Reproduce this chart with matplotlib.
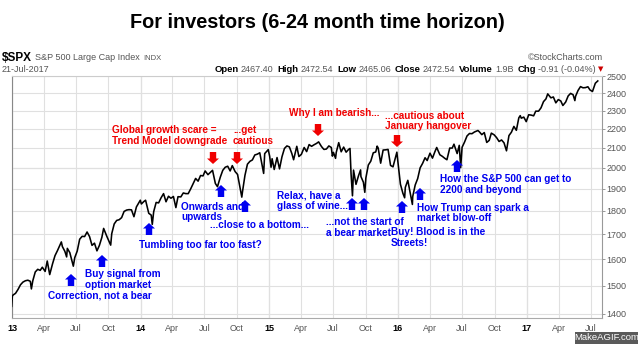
import matplotlib
matplotlib.use('Agg')
import matplotlib.pyplot as plt
from matplotlib.patches import Polygon, Rectangle
from matplotlib.ticker import FixedLocator, FixedFormatter, NullLocator
import pandas as pd

W, H = 640, 345
plt.rcParams['font.family'] = ['Liberation Sans', 'DejaVu Sans']

# ---------------- data (S&P 500 closes) ----------------
dates = [
    "2012-12-31", "2013-01-02", "2013-01-04", "2013-01-11", "2013-01-18", "2013-01-25",
    "2013-02-01", "2013-02-08", "2013-02-15", "2013-02-22", "2013-02-25", "2013-03-01",
    "2013-03-08", "2013-03-15", "2013-03-22", "2013-03-28", "2013-04-05", "2013-04-11",
    "2013-04-18", "2013-04-26", "2013-05-03", "2013-05-10", "2013-05-21", "2013-05-24",
    "2013-05-31", "2013-06-05", "2013-06-07", "2013-06-14", "2013-06-24", "2013-06-28",
    "2013-07-05", "2013-07-12", "2013-07-19", "2013-07-26", "2013-08-02", "2013-08-09",
    "2013-08-16", "2013-08-23", "2013-08-30", "2013-09-06", "2013-09-13", "2013-09-18",
    "2013-09-27", "2013-10-08", "2013-10-11", "2013-10-18", "2013-10-25", "2013-11-01",
    "2013-11-08", "2013-11-15", "2013-11-22", "2013-11-29", "2013-12-06", "2013-12-13",
    "2013-12-20", "2013-12-31",
    "2014-01-03", "2014-01-10", "2014-01-15", "2014-01-24", "2014-01-31", "2014-02-03",
    "2014-02-07", "2014-02-14", "2014-02-21", "2014-02-28", "2014-03-07", "2014-03-14",
    "2014-03-21", "2014-03-28", "2014-04-04", "2014-04-11", "2014-04-17", "2014-04-25",
    "2014-05-02", "2014-05-09", "2014-05-16", "2014-05-23", "2014-05-30", "2014-06-06",
    "2014-06-13", "2014-06-20", "2014-06-27", "2014-07-03", "2014-07-11", "2014-07-18",
    "2014-07-24", "2014-08-01", "2014-08-07", "2014-08-15", "2014-08-22", "2014-08-29",
    "2014-09-05", "2014-09-12", "2014-09-18", "2014-09-26", "2014-10-03", "2014-10-10",
    "2014-10-15", "2014-10-17", "2014-10-24", "2014-10-31", "2014-11-07", "2014-11-14",
    "2014-11-21", "2014-11-28", "2014-12-05", "2014-12-16", "2014-12-19", "2014-12-29",
    "2015-01-02", "2015-01-06", "2015-01-09", "2015-01-15", "2015-01-23", "2015-01-30",
    "2015-02-06", "2015-02-13", "2015-02-20", "2015-02-27", "2015-03-06", "2015-03-11",
    "2015-03-20", "2015-03-26", "2015-04-02", "2015-04-10", "2015-04-17", "2015-04-24",
    "2015-05-01", "2015-05-08", "2015-05-15", "2015-05-21", "2015-05-29", "2015-06-05",
    "2015-06-12", "2015-06-19", "2015-06-26", "2015-06-29", "2015-07-02", "2015-07-08",
    "2015-07-10", "2015-07-17", "2015-07-24", "2015-07-31", "2015-08-07", "2015-08-14",
    "2015-08-18", "2015-08-21", "2015-08-25", "2015-08-28", "2015-09-04", "2015-09-11",
    "2015-09-17", "2015-09-18", "2015-09-25", "2015-09-29", "2015-10-02", "2015-10-09",
    "2015-10-16", "2015-10-23", "2015-10-30", "2015-11-03", "2015-11-06", "2015-11-13",
    "2015-11-20", "2015-11-27", "2015-12-04", "2015-12-11", "2015-12-18", "2015-12-29",
    "2015-12-31",
    "2016-01-08", "2016-01-15", "2016-01-20", "2016-01-22", "2016-01-29", "2016-02-05",
    "2016-02-11", "2016-02-12", "2016-02-19", "2016-02-26", "2016-03-04", "2016-03-11",
    "2016-03-18", "2016-03-24", "2016-04-01", "2016-04-08", "2016-04-15", "2016-04-20",
    "2016-04-29", "2016-05-06", "2016-05-13", "2016-05-19", "2016-05-27", "2016-06-03",
    "2016-06-08", "2016-06-17", "2016-06-23", "2016-06-27", "2016-07-01", "2016-07-08",
    "2016-07-15", "2016-07-22", "2016-07-29", "2016-08-05", "2016-08-15", "2016-08-19",
    "2016-08-26", "2016-09-02", "2016-09-09", "2016-09-16", "2016-09-22", "2016-09-30",
    "2016-10-07", "2016-10-14", "2016-10-21", "2016-10-28", "2016-11-04", "2016-11-11",
    "2016-11-18", "2016-11-25", "2016-12-02", "2016-12-09", "2016-12-13", "2016-12-16",
    "2016-12-23", "2016-12-30",
    "2017-01-06", "2017-01-13", "2017-01-20", "2017-01-26", "2017-02-03", "2017-02-10",
    "2017-02-17", "2017-02-24", "2017-03-01", "2017-03-10", "2017-03-17", "2017-03-24",
    "2017-03-31", "2017-04-07", "2017-04-13", "2017-04-21", "2017-04-28", "2017-05-05",
    "2017-05-12", "2017-05-17", "2017-05-19", "2017-05-26", "2017-06-02", "2017-06-09",
    "2017-06-16", "2017-06-23", "2017-06-29", "2017-07-06", "2017-07-14", "2017-07-21",
]
closes = [
    1426, 1462, 1466, 1472, 1486, 1503,
    1513, 1518, 1520, 1516, 1488, 1518,
    1551, 1561, 1557, 1569, 1553, 1593,
    1541, 1582, 1614, 1634, 1669, 1650,
    1631, 1609, 1643, 1626, 1573, 1606,
    1632, 1680, 1692, 1691, 1710, 1691,
    1655, 1664, 1633, 1655, 1688, 1725,
    1692, 1656, 1703, 1744, 1759, 1762,
    1771, 1798, 1804, 1806, 1805, 1775,
    1818, 1848,
    1831, 1842, 1848, 1790, 1782, 1742,
    1797, 1838, 1836, 1859, 1878, 1841,
    1866, 1857, 1865, 1815, 1864, 1863,
    1881, 1878, 1878, 1900, 1924, 1949,
    1936, 1963, 1961, 1985, 1967, 1978,
    1988, 1925, 1910, 1955, 1988, 2003,
    2008, 1985, 2011, 1982, 1968, 1906,
    1862, 1887, 1964, 2018, 2032, 2039,
    2064, 2068, 2075, 1973, 2071, 2091,
    2058, 2003, 2045, 1992, 2051, 1995,
    2055, 2097, 2110, 2105, 2071, 2040,
    2108, 2056, 2067, 2102, 2081, 2117,
    2108, 2116, 2123, 2131, 2107, 2092,
    2094, 2110, 2102, 2058, 2077, 2047,
    2077, 2127, 2080, 2104, 2078, 2092,
    2097, 1971, 1868, 1989, 1921, 1961,
    1990, 1958, 1931, 1884, 1951, 2014,
    2033, 2075, 2079, 2109, 2099, 2023,
    2089, 2090, 2092, 2012, 2005, 2078,
    2044,
    1922, 1880, 1859, 1907, 1940, 1880,
    1829, 1865, 1918, 1948, 2000, 2022,
    2050, 2036, 2073, 2048, 2081, 2102,
    2065, 2057, 2047, 2040, 2099, 2099,
    2119, 2071, 2113, 2001, 2103, 2130,
    2162, 2175, 2174, 2183, 2191, 2184,
    2169, 2180, 2128, 2139, 2177, 2168,
    2153, 2133, 2141, 2126, 2085, 2164,
    2182, 2213, 2192, 2260, 2272, 2258,
    2264, 2239,
    2277, 2275, 2271, 2297, 2297, 2316,
    2351, 2367, 2396, 2373, 2378, 2344,
    2363, 2355, 2329, 2349, 2384, 2399,
    2391, 2357, 2382, 2416, 2439, 2432,
    2433, 2438, 2419, 2410, 2459, 2473,
]

y_ticks = [1400, 1500, 1600, 1700, 1800, 1900, 2000, 2100, 2200, 2300, 2400, 2500]
x_tick_dates = pd.date_range("2013-01-01", "2017-07-01", freq="QS")
x_tick_labels = ["13", "Apr", "Jul", "Oct", "14", "Apr", "Jul", "Oct",
                 "15", "Apr", "Jul", "Oct", "16", "Apr", "Jul", "Oct",
                 "17", "Apr", "Jul"]

title = "For investors (6-24 month time horizon)"

# annotations: (text, text_x_px, text_y_px_center, arrow_x_px, arrow_top_px)
red_notes = [
    ("Global growth scare =\nTrend Model downgrade", 112, 135.5, 213, 152),
    ("...get\ncautious", 233, 135.5, 237, 152),
    ("Why I am bearish...", 289, 113, 318, 124),
    ("...cautious about\nJanuary hangover", 385, 121, 397, 135),
]
blue_notes = [
    ("Correction, not a bear", 48, 295, 71, 274),
    ("Buy signal from\noption market", 85, 279.5, 102, 255),
    ("Tumbling too far too fast?", 139, 245, 149, 223),
    ("Onwards and\nupwards", 181, 212, 221, 185),
    ("...close to a bottom...", 210, 225, 245, 200),
    ("Relax, have a\nglass of wine...", 277, 200.5, 352, 198),
    ("...not the start of\na bear market", 326, 227.5, 364, 198),
    ("Buy! Blood is in the\nStreets!", 391, 237.5, 402, 201),
    ("How Trump can spark a\nmarket blow-off", 417, 213, 420, 188),
    ("How the S&P 500 can get to\n2200 and beyond", 440, 184.5, 457, 160),
]

# ---------------- figure ----------------
fig = plt.figure(figsize=(W / 100, H / 100), dpi=100)
fig.patch.set_facecolor('white')


def fx(x):
    return x / W


def fy(y):
    return 1 - y / H


ax = fig.add_axes([fx(12), fy(318), (602 - 12) / W, (318 - 76) / H])
ax.set_yscale('log')
d = pd.to_datetime(dates)
ax.plot(d, closes, color='black', lw=1.15, zorder=3)

ax.set_xlim(pd.Timestamp("2013-01-01"), pd.Timestamp("2017-08-02"))
ax.set_ylim(1386, 2503)

ax.yaxis.set_major_locator(FixedLocator(y_ticks))
ax.yaxis.set_major_formatter(FixedFormatter([str(v) for v in y_ticks]))
ax.yaxis.set_minor_locator(NullLocator())
ax.yaxis.tick_right()
ax.tick_params(axis='y', which='major', length=2, width=0.6, color='#888888',
               labelsize=6.5, labelcolor='#555555', pad=1)

ax.set_xticks(x_tick_dates)
ax.set_xticklabels(x_tick_labels)
ax.xaxis.set_minor_locator(NullLocator())
ax.tick_params(axis='x', which='major', length=0, labelsize=6.5,
               labelcolor='#555555', pad=4)
for lab in ax.get_xticklabels():
    if lab.get_text().isdigit():
        lab.set_fontweight('bold')
        lab.set_color('black')

ax.grid(True, which='major', color='#e0e0e0', lw=0.8, zorder=0)
for dt, lab in zip(x_tick_dates, x_tick_labels):
    if lab.isdigit():
        ax.axvline(dt, color='#c8c8c8', lw=0.8, zorder=1)
ax.axhline(2000, color='#cfcfcf', lw=0.8, zorder=1)

for side, c in (('left', '#888888'), ('right', '#999999'),
                ('bottom', '#aaaaaa'), ('top', '#cccccc')):
    ax.spines[side].set_color(c)
    ax.spines[side].set_linewidth(0.8)

# ---------------- title & header ----------------
fig.text(fx(317.5), fy(22), title, ha='center', va='center',
         fontsize=14.3, fontweight='bold', color='black')

renderer = fig.canvas.get_renderer()


def run(pieces, x, y, align='left'):
    texts = []
    cur = x
    for s, kw, gap in pieces:
        t = fig.text(fx(cur), fy(y), s, ha='left', va='center', **kw)
        bb = t.get_window_extent(renderer=renderer)
        cur += bb.width + gap
        texts.append(t)
    if align == 'right':
        shift = cur - x
        for t in texts:
            px, py = t.get_position()
            t.set_position((px - shift / W, py))


gray = '#555555'
run([("$SPX", dict(fontsize=8.5, fontweight='bold', color='black'), 3),
     ("S&P 500 Large Cap Index", dict(fontsize=6.5, color=gray), 3),
     ("INDX", dict(fontsize=5.5, color=gray), 0)], 2, 58)
fig.text(fx(2), fy(69), "21-Jul-2017", ha='left', va='center', fontsize=6.5, color=gray)
fig.text(fx(603), fy(57), "\u00a9StockCharts.com", ha='right', va='center',
         fontsize=6.5, color=gray)

lbl = dict(fontsize=6.8, fontweight='bold', color='black')
val = dict(fontsize=6.5, color=gray)
run([("Open", lbl, 2), ("2467.40", val, 4),
     ("High", lbl, 2), ("2472.54", val, 4),
     ("Low", lbl, 2), ("2465.06", val, 4),
     ("Close", lbl, 2), ("2472.54", val, 4),
     ("Volume", lbl, 2), ("1.9B", val, 4),
     ("Chg", lbl, 2), ("-0.91 (-0.04%)", val, 2),
     ("\u25bc", dict(fontsize=5, color='#cc0000', family=['DejaVu Sans']), 0)],
    603, 69, align='right')


# ---------------- annotations ----------------
def arrow(cx, ytop, color, up):
    hw, sw, hh, total = 6, 3.2, 5.5, 12
    if up:
        yh = ytop + hh
        yb = ytop + total
        pts = [(cx, ytop), (cx + hw, yh), (cx + sw, yh), (cx + sw, yb),
               (cx - sw, yb), (cx - sw, yh), (cx - hw, yh)]
    else:
        ytip = ytop + total
        yh = ytip - hh
        pts = [(cx - sw, ytop), (cx + sw, ytop), (cx + sw, yh), (cx + hw, yh),
               (cx, ytip), (cx - hw, yh), (cx - sw, yh)]
    poly = Polygon([(fx(px), fy(py)) for px, py in pts], closed=True,
                   transform=fig.transFigure, facecolor=color, edgecolor='none',
                   zorder=5)
    fig.add_artist(poly)


RED = '#f00000'
BLUE = '#0000f0'
for txt, tx, ty, axp, ayp in red_notes:
    fig.text(fx(tx), fy(ty), txt, ha='left', va='center', fontsize=7.2,
             fontweight='bold', color=RED, linespacing=1.08, zorder=6)
    arrow(axp, ayp, RED, up=False)
for txt, tx, ty, axp, ayp in blue_notes:
    fig.text(fx(tx), fy(ty), txt, ha='left', va='center', fontsize=7.2,
             fontweight='bold', color=BLUE, linespacing=1.08, zorder=6)
    arrow(axp, ayp, BLUE, up=True)

# watermark
fig.add_artist(Rectangle((fx(575), fy(344)), (638 - 575) / W, 12 / H,
                         transform=fig.transFigure, facecolor='#5a5a5a',
                         edgecolor='none', zorder=7))
fig.text(fx(606.5), fy(338), "MakeAGIF.com", ha='center', va='center',
         fontsize=6.8, color='white', zorder=8)

fig.savefig("out.png", dpi=100, facecolor='white')
